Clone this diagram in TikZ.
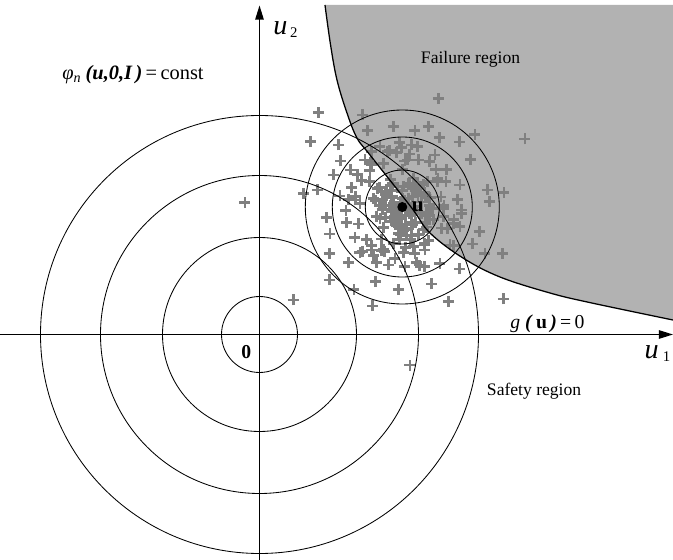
\documentclass[tikz,border=0pt]{standalone}
\usepackage{fontspec}
\setmainfont{Liberation Serif}
\usetikzlibrary{positioning,arrows.meta}

\tikzset{
  plusmark/.style={draw=black!50,line width=2pt},
  smp/.pic={\draw[plusmark] (-5.5,0) -- (5.5,0) (0,-5.5) -- (0,5.5);},
  ring/.style={line width=0.6pt},
  axis/.style={line width=0.9pt,-{Triangle[length=10pt,width=6pt]}},
  lbl/.style={inner sep=0pt,anchor=base west,font=\fontsize{12.5}{14}\selectfont},
}

\begin{document}
\begin{tikzpicture}[x=0.025cm,y=0.025cm]
\useasboundingbox (-259.5,-225.5) rectangle (413.5,334.5);
\coordinate (O) at (0,0);
\coordinate (ustar) at (142.8,127.5);
% failure domain
\fill[black!30] plot[smooth,tension=0.6] coordinates {(65.5,329.5) (71,290) (77.5,254.5) (87.5,221.5) (97.5,196.5) (110.5,179.5) (151.5,127.5) (170.5,101.5) (203.5,76.5) (240.5,57.5) (290.5,41.5) (330,32) (413.5,14.5)} -- (413.5,329.5) -- cycle;
% samples
\begin{scope}[shift={(143.5,126.5)}]
\pgfmathsetseed{7}
\foreach \k in {1,...,95}{
  \pgfmathsetmacro\rr{33*sqrt(rnd)}
  \pgfmathsetmacro\aa{360*rnd}
  \pic at (\aa:\rr) {smp};
}
\foreach \k in {1,...,40}{
  \pgfmathsetmacro\rr{36+28*rnd}
  \pgfmathsetmacro\aa{360*rnd}
  \pic at (\aa:\rr) {smp};
}
\end{scope}
\foreach \px/\py in {58.8/222.2,103.2/219.5,133.8/207.8,108.2/203.8,51.2/192.8,78.8/189.5,139.8/192.2,120.5/187.8,112.2/182.8,137.2/181.8,81.2/173.5,105.5/174.5,123.8/171.2,145.5/173.5,91.2/164.5,73.8/159.5,110.5/163.8,102.2/153.8,92.2/147.2,57.8/144.5,43.8/141.2,80.5/138.5,95.5/134.5,-14.5/131.8,
  178.8/236.2,265.5/195.5,155.5/203.8,168.8/207.8,179.8/197.2,199.8/192.5,215.5/200.2,157.8/187.8,175.5/179.5,147.8/174.5,158.8/174.5,169.8/172.8,211.2/175.2,176.5/165.2,187.2/165.2,186.5/152.8,200.5/149.5,227.8/144.5,244.5/141.8,229.8/132.8,197.8/135.2,
  67.2/117.2,86.5/123.8,87.2/111.8,98.8/110.5,70.5/100.5,95.5/97.2,107.2/95.2,69.8/81.2,100.5/81.8,112.2/84.5,123.8/85.2,88.8/71.8,117.2/71.8,128.8/69.5,135.5/76.2,143.8/81.8,69.8/54.5,94.5/45.2,116.2/52.8,138.8/45.2,113.2/28.5,33.8/34.5,150.5/-30.5,
  202.2/124.5,219.8/102.8,213.2/90.5,190.5/89.5,225.5/81.2,243.2/81.2,165.5/84.5,155.5/81.2,157.2/71.8,180.5/71.2,199.8/65.5,145.5/67.8,172.2/50.5,188.8/32.8,243.8/35.5,200.5/107.8}
  \pic at (\px,\py) {smp};
% limit state surface
\draw[line width=0.9pt] plot[smooth,tension=0.6] coordinates {(65.5,329.5) (71,290) (77.5,254.5) (87.5,221.5) (97.5,196.5) (110.5,179.5) (151.5,127.5) (170.5,101.5) (203.5,76.5) (240.5,57.5) (290.5,41.5) (330,32) (413.5,14.5)};
% density contours
\foreach \r in {38,97,159,219}
  \draw[ring] (O) circle[radius=\r];
\foreach \r in {37,70,97}
  \draw[ring] (ustar) circle[radius=\r];
% axes
\draw[axis] (-259.5,0) -- (413.5,0);
\draw[axis] (0,-225.5) -- (0,329);
\fill (ustar) circle[radius=5];
% labels
\node[lbl,font=\fontsize{20}{20}\selectfont] (ytitle) at (13.5,299.5) {\itshape u\kern2pt\raisebox{-2pt}{\fontsize{10.5}{10}\selectfont\upshape 2}};
\node[lbl,font=\fontsize{20}{20}\selectfont] (xtitle) at (384.8,-23.8) {\itshape u\kern3pt\raisebox{-2pt}{\fontsize{10.5}{10}\selectfont\upshape 1}};
\node[lbl,font=\fontsize{14.5}{16}\selectfont] (phi) at (-197.5,254.5) {\textit{φ}\raisebox{-2pt}{\fontsize{10}{10}\selectfont\textit{n}}\ \textbf{\textit{(u,0,I\,)}}\,=\,const};
\node[lbl] (fail) at (161.2,271.2) {Failure region};
\node[lbl] (safe) at (227.2,-60.5) {Safety region};
\node[lbl,font=\fontsize{14}{16}\selectfont] (gzero) at (250.5,6.2) {\textit{g}\ \textbf{\textit{(}}\,\textbf{u}\,\textbf{\textit{)}}\,=\,0};
\node[lbl,font=\fontsize{14}{16}\selectfont\bfseries] (zero) at (-18.5,-23.8) {0};
\node[lbl,font=\fontsize{15}{16}\selectfont] (ulbl) at (152.2,122.8) {\textbf{u}\kern2pt\raisebox{7pt}{\fontsize{8}{8}\selectfont\color{black!70}*}};
\end{tikzpicture}
\end{document}
